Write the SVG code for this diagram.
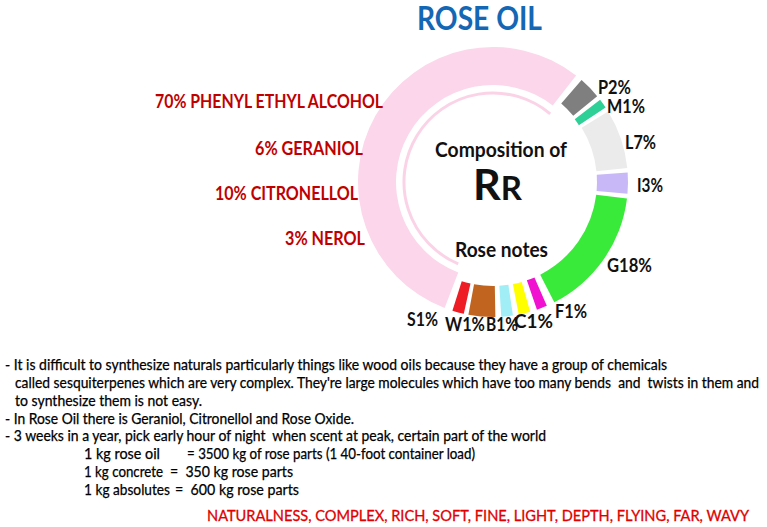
<svg xmlns="http://www.w3.org/2000/svg" width="767" height="527" viewBox="0 0 767 527">
<style>
  text { font-family: Lato, "Noto Sans", "Liberation Sans", sans-serif; }
  .lbl { font-size: 18.7px; font-weight: bold; fill: #111; }
  .red { font-size: 18.7px; font-weight: bold; fill: #c00000; }
  .body { font-size: 14.7px; fill: #000; white-space: pre; stroke: #000; stroke-width: 0.25px; }
  .ctr { font-weight: bold; fill: #111; }
</style>
<rect width="767" height="527" fill="#fff"/>
<text x="417" y="30" font-size="32" font-weight="bold" fill="#1467b5" textLength="125" lengthAdjust="spacingAndGlyphs">ROSE OIL</text>

<g id="ring">
  <g id="seg-pink"><path d="M444.62,308.04 A135,135 0 1 1 576.12,75.62 L552.72,105.56 A97,97 0 1 0 458.24,272.56 Z" fill="#fcd6ea"/>
    <path d="M458.23,263.92 A89,89 0 1 1 550.21,113.83" fill="none" stroke="#fbd3e7" stroke-width="3"/></g>
  <g id="seg-P"><path d="M581.57,80.12 A135,135 0 0 1 597.17,96.13 L573.25,115.85 A104,104 0 0 0 561.23,103.51 Z" fill="#7f7f7f"/></g>
  <g id="seg-M"><path d="M600.11,99.81 A135,135 0 0 1 605.58,107.49 L578.89,125.15 A103,103 0 0 0 574.72,119.29 Z" fill="#2fcf98"/></g>
  <g id="seg-L"><path d="M608.10,111.46 A135,135 0 0 1 627.26,167.89 L596.43,171.13 A104,104 0 0 0 581.67,127.66 Z" fill="#ebebeb"/></g>
  <g id="seg-I"><path d="M627.68,172.58 A135,135 0 0 1 627.49,193.77 L596.60,191.07 A104,104 0 0 0 596.75,174.74 Z" fill="#c9b8f7"/></g>
  <g id="seg-G"><path d="M626.99,198.46 A135,135 0 0 1 554.29,302.29 L540.22,274.66 A104,104 0 0 0 596.22,194.68 Z" fill="#3aea3a"/></g>
  <g id="seg-F"><path d="M546.82,305.81 A135,135 0 0 1 536.96,309.64 L526.86,280.33 A104,104 0 0 0 534.46,277.38 Z" fill="#f012d0"/></g>
  <g id="seg-C"><path d="M530.21,311.78 A135,135 0 0 1 518.76,314.52 L512.84,284.09 A104,104 0 0 0 521.66,281.98 Z" fill="#ffff00"/></g>
  <g id="seg-B"><path d="M512.95,315.52 A135,135 0 0 1 501.24,316.75 L499.34,285.80 A104,104 0 0 0 508.37,284.86 Z" fill="#a2eef6"/></g>
  <g id="seg-W"><path d="M495.36,316.98 A135,135 0 0 1 468.40,314.75 L474.05,284.26 A104,104 0 0 0 494.81,285.98 Z" fill="#c0641f"/></g>
  <g id="seg-S"><path d="M463.79,313.80 A135,135 0 0 1 452.41,310.75 L461.73,281.18 A104,104 0 0 0 470.49,283.54 Z" fill="#ee1c24"/></g>
</g>

<g id="center-text">
  <text class="ctr" x="435" y="157" font-size="20" textLength="132" lengthAdjust="spacingAndGlyphs">Composition of</text>
  <text class="ctr" x="473" y="200" textLength="49" lengthAdjust="spacingAndGlyphs"><tspan font-size="42">R</tspan><tspan font-size="32">R</tspan></text>
  <text class="ctr" x="455" y="257" font-size="20" textLength="93" lengthAdjust="spacingAndGlyphs">Rose notes</text>
</g>

<g id="segment-labels">
  <text class="lbl" x="598" y="94" textLength="33" lengthAdjust="spacingAndGlyphs">P2%</text>
  <text class="lbl" x="607" y="113" textLength="38" lengthAdjust="spacingAndGlyphs">M1%</text>
  <text class="lbl" x="625" y="149" textLength="31" lengthAdjust="spacingAndGlyphs">L7%</text>
  <text class="lbl" x="637" y="192" textLength="26" lengthAdjust="spacingAndGlyphs">I3%</text>
  <text class="lbl" x="607" y="272" textLength="45" lengthAdjust="spacingAndGlyphs">G18%</text>
  <text class="lbl" x="555" y="318" textLength="32" lengthAdjust="spacingAndGlyphs">F1%</text>
  <text class="lbl" x="514" y="328" textLength="39" lengthAdjust="spacingAndGlyphs">C1%</text>
  <text class="lbl" x="486" y="331" textLength="32" lengthAdjust="spacingAndGlyphs">B1%</text>
  <text class="lbl" x="445" y="331" textLength="40" lengthAdjust="spacingAndGlyphs">W1%</text>
  <text class="lbl" x="407" y="326" textLength="31" lengthAdjust="spacingAndGlyphs">S1%</text>
</g>

<g id="component-labels">
  <text class="red" x="155" y="108" textLength="228" lengthAdjust="spacingAndGlyphs">70% PHENYL ETHYL ALCOHOL</text>
  <text class="red" x="255" y="155" textLength="108" lengthAdjust="spacingAndGlyphs">6% GERANIOL</text>
  <text class="red" x="215" y="200" textLength="143" lengthAdjust="spacingAndGlyphs">10% CITRONELLOL</text>
  <text class="red" x="285" y="245" textLength="80" lengthAdjust="spacingAndGlyphs">3% NEROL</text>
</g>

<g id="notes">
  <text class="body" x="5" y="370" textLength="662" lengthAdjust="spacingAndGlyphs">- It is difficult to synthesize naturals particularly things like wood oils because they have a group of chemicals</text>
  <text class="body" x="15" y="388" textLength="744" lengthAdjust="spacingAndGlyphs">called sesquiterpenes which are very complex. They're large molecules which have too many bends  and  twists in them and</text>
  <text class="body" x="15" y="406" textLength="187" lengthAdjust="spacingAndGlyphs">to synthesize them is not easy.</text>
  <text class="body" x="5" y="424" textLength="349" lengthAdjust="spacingAndGlyphs">- In Rose Oil there is Geraniol, Citronellol and Rose Oxide.</text>
  <text class="body" x="5" y="441" textLength="541" lengthAdjust="spacingAndGlyphs">- 3 weeks in a year, pick early hour of night  when scent at peak, certain part of the world</text>
  <text class="body" x="84" y="459" textLength="76" lengthAdjust="spacingAndGlyphs">1 kg rose oil</text>
  <text class="body" x="187" y="459" textLength="288" lengthAdjust="spacingAndGlyphs">= 3500 kg of rose parts (1 40-foot container load)</text>
  <text class="body" x="84" y="477" textLength="79" lengthAdjust="spacingAndGlyphs">1 kg concrete</text>
  <text class="body" x="170" y="477" textLength="123" lengthAdjust="spacingAndGlyphs">=  350 kg rose parts</text>
  <text class="body" x="84" y="495" textLength="86" lengthAdjust="spacingAndGlyphs">1 kg absolutes</text>
  <text class="body" x="175" y="495" textLength="124" lengthAdjust="spacingAndGlyphs">=  600 kg rose parts</text>
  <text x="207" y="521" font-size="16" fill="#e00000" stroke="#e00000" stroke-width="0.3" textLength="542" lengthAdjust="spacingAndGlyphs">NATURALNESS, COMPLEX, RICH, SOFT, FINE, LIGHT, DEPTH, FLYING, FAR, WAVY</text>
</g>
</svg>
